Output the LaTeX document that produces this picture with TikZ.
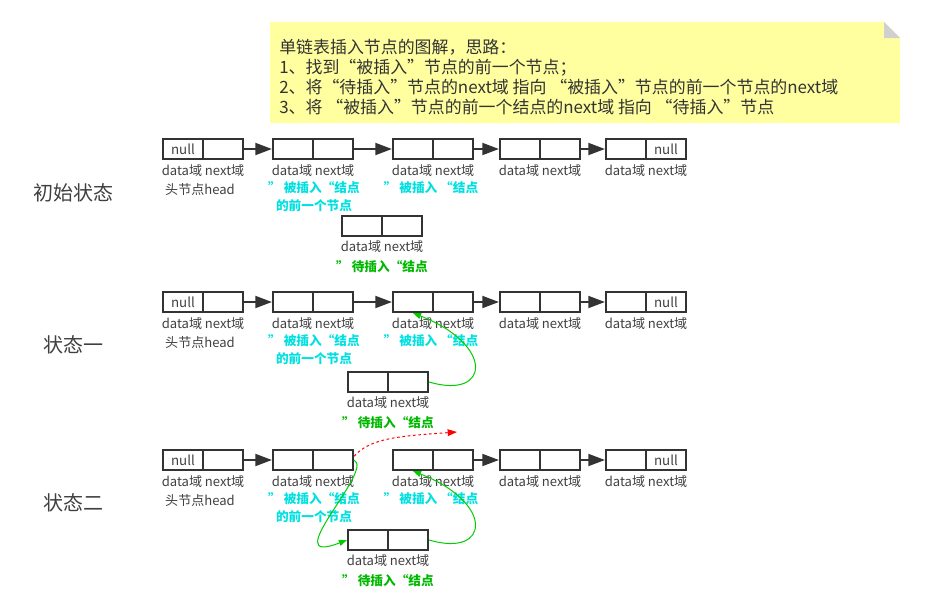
\documentclass[tikz,border=0pt]{standalone}
\usepackage{fontspec}
\newfontfamily\cjk{Noto Sans CJK SC}
\usetikzlibrary{arrows.meta,positioning}
\definecolor{linegray}{HTML}{333333}
\definecolor{textgray}{HTML}{404040}
\definecolor{notefill}{HTML}{FFFFA0}
\definecolor{foldgray}{HTML}{D0D0D0}
\definecolor{tagcyan}{HTML}{00E0E0}
\definecolor{taggreen}{HTML}{00B800}
\definecolor{linkgreen}{HTML}{00CC00}
\tikzset{
  cell/.style={draw=linegray, line width=1.6pt, minimum width=30pt, minimum height=15pt, inner sep=0pt},
  nulltxt/.style={font=\cjk\fontsize{10}{11}\selectfont, text=textgray, inner sep=1pt},
  fieldlbl/.style={font=\cjk\fontsize{9.8}{11}\selectfont, text=textgray, inner sep=1pt},
  cyantag/.style={font=\cjk\bfseries\fontsize{9.5}{13.5}\selectfont, text=tagcyan, align=center, inner sep=1pt},
  greentag/.style={font=\cjk\bfseries\fontsize{9.5}{11}\selectfont, text=taggreen, inner sep=1pt},
  statelbl/.style={font=\cjk\fontsize{15}{18}\selectfont, text=textgray},
  notetext/.style={font=\cjk\fontsize{12.7}{15}\selectfont, text=linegray, align=left, inner sep=0pt},
  link/.style={draw=linegray, line width=1.5pt, -{Triangle[length=12.5pt,width=9pt]}},
  greenlink/.style={draw=linkgreen, line width=0.75pt, -{Triangle[length=6pt,width=4.5pt]}},
  redlink/.style={draw=red, line width=0.75pt, dash pattern=on 2pt off 2pt, -{Triangle[length=7pt,width=5pt]}}
}
\begin{document}
\begin{tikzpicture}[x=0.75pt,y=-0.75pt]
	\useasboundingbox (0,0) rectangle (925,615);
	%note
	\fill[notefill] (270,22) -- (884,22) -- (900,38) -- (900,123) -- (270,123) -- cycle;
	\fill[foldgray] (884,22) -- (884,38) -- (900,38) -- cycle;
	\node[notetext, anchor=west] (note) at (279,77) {单链表插入节点的图解，思路：\\1、找到“被插入”节点的前一个节点；\\2、将“待插入”节点的next域 指向 “被插入”节点的前一个节点的next域\\3、将 “被插入”节点的前一个结点的next域 指向 “待插入”节点};
	%states
	\node[statelbl] (s0) at (73,193) {初始状态};
	\node[statelbl] (s1) at (73,345) {状态一};
	\node[statelbl] (s2) at (73,503) {状态二};
	%lists
	\foreach \r/\y in {1/149,2/302,3/460}{
		\foreach \c/\x in {1/183,2/293,3/413,4/520,5/626}{
			\node[cell] (d\r\c) at (\x,\y) {};
			\node[cell] (n\r\c) at (\x+40,\y) {};
			\node[fieldlbl] (lab\r\c) at (\x+20,\y+22) {data域 next域};
		}
		\node[nulltxt] (nullh\r) at (d\r1) {null};
		\node[nulltxt] (nullt\r) at (n\r5) {null};
		\node[fieldlbl] (head\r) at (200,\y+41) {头节点head};
		\node[cyantag] (tagp\r) at (314,\y+48) {” 被插入“结点\\的前一个节点};
		\node[cyantag] (tagq\r) at (431,\y+39) {” 被插入 “结点};
	}
	%links
	\foreach \r in {1,2}
		\foreach \a/\b in {1/2,2/3,3/4,4/5}
			\draw[link] (n\r\a) -- (d\r\b);
	\foreach \a/\b in {1/2,3/4,4/5}
		\draw[link] (n3\a) -- (d3\b);
	%node to insert
	\foreach \r/\x/\y in {1/362/226,2/368/382,3/368/540}{
		\node[cell] (id\r) at (\x,\y) {};
		\node[cell] (in\r) at (\x+40,\y) {};
		\node[fieldlbl] (ilab\r) at (\x+20,\y+21) {data域 next域};
		\node[greentag] (itag\r) at (\x+20,\y+41) {” 待插入“结点};
	}
	%new pointers
	\coordinate (redend) at (457,432);
	\draw[greenlink] (in2.east) .. controls (490,400) and (495,345) .. (d23.south);
	\draw[greenlink] (in3.east) .. controls (490,558) and (495,503) .. (d33.south);
	\draw[greenlink] (n32.east) .. controls (375,470) and (275,568) .. (id3.west);
	\draw[redlink] (n32.10) .. controls (370,438) and (400,436) .. (redend);
\end{tikzpicture}
\end{document}
